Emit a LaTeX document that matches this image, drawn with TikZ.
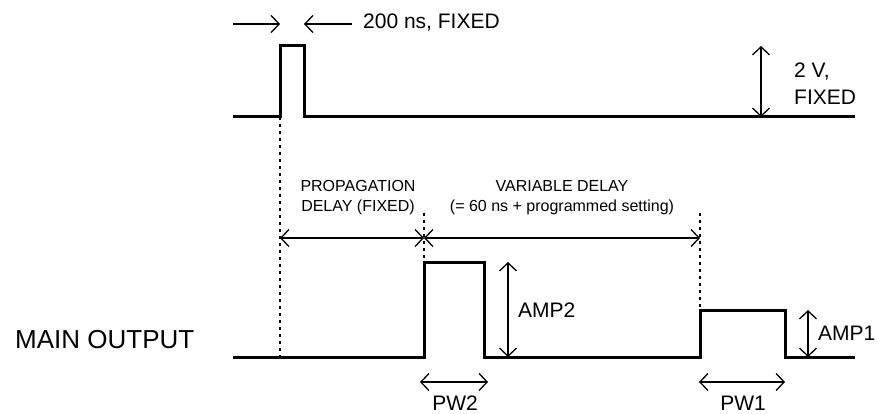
\documentclass[tikz,border=0pt]{standalone}
\usepackage{fontspec}
\setmainfont{Liberation Sans}
\usetikzlibrary{arrows.meta}

\begin{document}
\begin{tikzpicture}[x=1pt,y=-1pt,>={Straight Barb[length=8pt,width=17pt]},
    signal/.style={line width=3pt,line join=miter},
    marker/.style={line width=1.5pt,dash pattern=on 3pt off 4pt},
    dim/.style={line width=1.3pt},
    lbl/.style={inner sep=0pt,font=\fontsize{21}{27}\selectfont},
    small/.style={inner sep=0pt,align=center,font=\fontsize{16}{20}\selectfont}]
    \useasboundingbox (0,0) rectangle (878,414);

    % trigger pulse
    \coordinate (tstart) at (233,117);
    \coordinate (trise) at (280,117);
    \coordinate (ttop) at (304,46);
    \coordinate (tfall) at (304,117);
    \coordinate (tend) at (855,117);
    \draw[signal] (tstart) -- (trise) |- (ttop) -- (tfall) -- (tend);

    \coordinate (wl) at (233,24);
    \coordinate (wlt) at (280,24);
    \coordinate (wrt) at (304,24);
    \coordinate (wr) at (352,24);
    \draw[dim,->] (wl) -- (wlt);
    \draw[dim,->] (wr) -- (wrt);
    \node[lbl,anchor=base west] (width) at (363,29) {200 ns, FIXED};

    \coordinate (vtop) at (761,46);
    \coordinate (vbot) at (761,117);
    \draw[dim,<->] (vtop) -- (vbot);
    \node[lbl,align=left,anchor=north west] (volt) at (794,63) {2 V,\\FIXED};

    % main output
    \coordinate (mstart) at (233,357);
    \coordinate (rise2) at (424,357);
    \coordinate (top2) at (484,262);
    \coordinate (fall2) at (484,357);
    \coordinate (rise1) at (700,357);
    \coordinate (top1) at (785,310);
    \coordinate (fall1) at (785,357);
    \coordinate (mend) at (855,357);
    \draw[signal] (mstart) -- (rise2) |- (top2) -- (fall2) -- (rise1)
      |- (top1) -- (fall1) -- (mend);
    \node[inner sep=0pt,font=\fontsize{26}{30}\selectfont,anchor=base west]
      (main) at (15,348) {MAIN OUTPUT};

    % delays
    \coordinate (d0) at (280,238);
    \coordinate (d1) at (424,238);
    \coordinate (d2) at (700,238);
    \draw[marker] (trise) -- (280,357);
    \draw[marker] (424,213) -- (424,262);
    \draw[marker] (700,213) -- (700,310);
    \draw[dim,<->] (d0) -- (d1);
    \draw[dim,<->] (d1) -- (d2);
    \node[small,anchor=north] (prop) at (358,180)
      {PROPAGATION\\DELAY (FIXED)};
    \node[small,anchor=north] (var) at (562,180)
      {VARIABLE DELAY\\(= 60 ns + programmed setting)};

    % amplitudes and widths
    \coordinate (a2t) at (508,262);
    \coordinate (a2b) at (508,357);
    \draw[dim,<->] (a2t) -- (a2b);
    \node[lbl,anchor=base west] (amp2) at (518,317) {AMP2};
    \coordinate (a1t) at (808,310);
    \coordinate (a1b) at (808,357);
    \draw[dim,<->] (a1t) -- (a1b);
    \node[lbl,anchor=base west] (amp1) at (818,340) {AMP1};

    \coordinate (p2l) at (420,382);
    \coordinate (p2r) at (488,382);
    \draw[dim,<->] (p2l) -- (p2r);
    \node[lbl,anchor=base] (pw2) at (455,410) {PW2};
    \coordinate (p1l) at (699,382);
    \coordinate (p1r) at (785,382);
    \draw[dim,<->] (p1l) -- (p1r);
    \node[lbl,anchor=base] (pw1) at (743,410) {PW1};
  \end{tikzpicture}
\end{document}
